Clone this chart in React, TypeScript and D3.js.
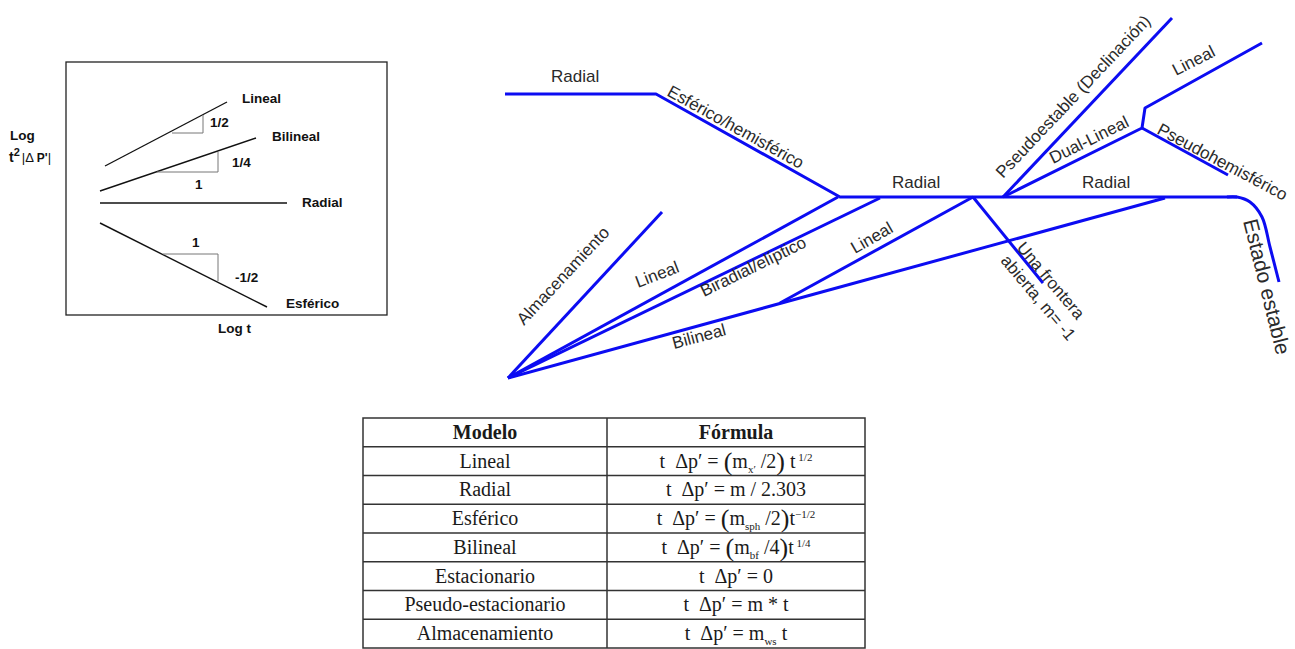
import React from "react";
import * as d3 from "d3";

// ---- left panel: specialised lines on the log-log derivative plot ----
const llNames = ["Lineal", "Bilineal", "Radial", "Esférico"];
const llStart: [number, number][] = [[39, 149], [34, 124], [34, 112], [34, 92]];
const llEnd: [number, number][] = [[161, 213], [190, 177], [221, 112], [201, 8]];
const slopeTriangles: [number, number][][] = [
  [[106, 182], [137, 182], [137, 200]],
  [[91, 143], [152, 143], [152, 163]],
  [[97, 61], [152, 61], [152, 34]],
];
const slopeTexts = ["1/2", "1/4", "1", "1", "-1/2"];

// ---- flow regime tree (schematic units) ----
const mainBranch: [number, number][] = [[0, 284], [151, 284], [335, 181], [732, 181]];
const steadyBranch: [number, number][] = [[722, 181], [732, 181], [745, 176], [757, 161], [765, 131], [774, 96]];
const originBranches: [number, number][][] = [
  [[3, 0], [157, 166]], // almacenamiento
  [[3, 0], [333, 181]], // lineal
  [[3, 0], [375, 180]], // biradial
  [[3, 0], [660, 180]], // bilineal
];
const linealFromBilineal: [number, number][] = [[275, 75], [468, 181]];
const unaFrontera: [number, number][] = [[468, 181], [538, 95]];
const pseudoestable: [number, number][] = [[498, 181], [667, 360]];
const dualLineal: [number, number][] = [[498, 181], [637, 250], [640, 270], [757, 335]];
const pseudohemi: [number, number][] = [[637, 250], [723, 203]];

const flowTexts = [
  "Radial", "Esférico/hemisférico", "Almacenamiento", "Lineal", "Biradial/elíptico",
  "Bilineal", "Lineal", "Radial", "Radial", "Pseudoestable (Declinación)", "Dual-Lineal",
  "Lineal", "Pseudohemisférico", "Una frontera", "abierta, m= -1", "Estado estable",
];

// ---- table ----
const models = ["Lineal", "Radial", "Esférico", "Bilineal", "Estacionario", "Pseudo-estacionario", "Almacenamiento"];
type Part = [string, "n" | "sub" | "sup" | "big"];
const formulas: Part[][] = [
  [["t  Δp′ = ", "n"], ["(", "big"], ["m", "n"], ["x′", "sub"], [" /2", "n"], [")", "big"], [" t", "n"], [" 1/2", "sup"]],
  [["t  Δp′ = m / 2.303", "n"]],
  [["t  Δp′ = ", "n"], ["(", "big"], ["m", "n"], ["sph", "sub"], [" /2", "n"], [")", "big"], ["t", "n"], ["−1/2", "sup"]],
  [["t  Δp′ = ", "n"], ["(", "big"], ["m", "n"], ["bf", "sub"], [" /4", "n"], [")", "big"], ["t", "n"], [" 1/4", "sup"]],
  [["t  Δp′ = 0", "n"]],
  [["t  Δp′ = m * t", "n"]],
  [["t  Δp′ = m", "n"], ["ws", "sub"], [" t", "n"]],
];

// label layout: [x, y, angle]
const llLabelPos: [number, number][] = [[176, 212], [206, 174], [236, 108], [220, 7]];
const slopePos: [number, number][] = [[144, 188], [166, 148], [129, 126], [126, 68], [169, 33]];
const flowPos: [number, number, number][] = [
  [46, 296, 0], [161, 283, 29], [19, 52, -47], [133, 90, -21], [199, 81, -26],
  [169, 29, -15], [350, 124, -30], [387, 190, 0], [577, 190, 0], [498, 199, -46.6],
  [548, 214, -26.4], [671, 302, -27], [651, 245, 28], [511, 130, 50], [495, 117, 50],
  [738, 157, 76],
];

const BLUE = "#0c0cf2";
const SANS = "'Liberation Sans', Arial, sans-serif";
const SERIF = "'Liberation Serif', 'Times New Roman', serif";

function Formula({ parts, x, y }: { parts: Part[]; x: number; y: number }) {
  let cur = 0;
  const spans = parts.map(([t, k], i) => {
    const target = k === "sub" ? 5 : k === "sup" ? -7 : k === "big" ? 2 : 0;
    const dy = target - cur;
    cur = target;
    const fs = k === "sub" || k === "sup" ? 11 : k === "big" ? 26 : 20;
    return (
      <tspan key={i} dy={dy} fontSize={fs}>
        {t}
      </tspan>
    );
  });
  return (
    <text x={x} y={y} textAnchor="middle" fontFamily={SERIF} fill="#1a1a1a" style={{ whiteSpace: "pre" }}>
      {spans}
    </text>
  );
}

export default function App() {
  // left plot scales
  const lx = d3.scaleLinear().domain([0, 321]).range([66, 387]);
  const ly = d3.scaleLinear().domain([0, 253]).range([315, 62]);
  const lLine = d3.line<[number, number]>().x((d) => lx(d[0])).y((d) => ly(d[1]));

  // tree scales
  const fx = d3.scaleLinear().domain([0, 790]).range([505, 1295]);
  const fy = d3.scaleLinear().domain([0, 360]).range([378, 18]);
  const fLine = d3.line<[number, number]>().x((d) => fx(d[0])).y((d) => fy(d[1]));
  const fCurve = d3.line<[number, number]>().x((d) => fx(d[0])).y((d) => fy(d[1])).curve(d3.curveCatmullRom);

  // table scales
  const rows = d3.scaleBand<number>().domain(d3.range(models.length + 1)).range([418, 648]);
  const tLeft = 363, tMid = 607, tRight = 865;

  const treePaths = [mainBranch, ...originBranches, linealFromBilineal, unaFrontera, pseudoestable, dualLineal, pseudohemi];

  return (
    <svg width={1295} height={649} style={{ position: "absolute", left: 0, top: 0, background: "#fff" }}>
      {/* left panel */}
      <rect x={lx(0)} y={ly(253)} width={lx(321) - lx(0)} height={ly(0) - ly(253)} fill="none" stroke="#222" strokeWidth={1.3} />
      {llNames.map((n, i) => (
        <path key={n} d={lLine([llStart[i], llEnd[i]]) || ""} stroke="#111" strokeWidth={1.4} fill="none" />
      ))}
      {slopeTriangles.map((t, i) => (
        <path key={i} d={lLine(t) || ""} stroke="#777" strokeWidth={1} fill="none" />
      ))}
      <g fontFamily={SANS} fontWeight="bold" fontSize={13.5} fill="#111">
        {llNames.map((n, i) => (
          <text key={n} x={lx(llLabelPos[i][0])} y={ly(llLabelPos[i][1])}>{n}</text>
        ))}
        {slopeTexts.map((s, i) => (
          <text key={i} x={lx(slopePos[i][0])} y={ly(slopePos[i][1])}>{s}</text>
        ))}
        <text x={lx(152)} y={ly(-18)}>Log t</text>
        <text x={10} y={140}>Log</text>
        <text x={9} y={162} fontSize={14}>
          t<tspan dy={-6} fontSize={11}>2</tspan>
          <tspan dy={6} fontSize={13} fontWeight="normal" dx={2}>|Δ </tspan>
          <tspan fontSize={12}>P'</tspan>
          <tspan fontSize={13} fontWeight="normal">|</tspan>
        </text>
      </g>

      {/* flow regime tree */}
      {treePaths.map((p, i) => (
        <path key={i} d={fLine(p) || ""} stroke={BLUE} strokeWidth={3} fill="none" strokeLinejoin="round" />
      ))}
      <path d={fCurve(steadyBranch) || ""} stroke={BLUE} strokeWidth={3} fill="none" />
      <g fontFamily={SANS} fill="#2a2a2a" fontSize={17}>
        {flowTexts.map((t, i) => {
          const [x, y, a] = flowPos[i];
          const px = fx(x), py = fy(y);
          return (
            <text key={i} x={px} y={py} fontSize={i === 15 ? 21 : 17} transform={`rotate(${a},${px},${py})`}>
              {t}
            </text>
          );
        })}
      </g>

      {/* table */}
      <g stroke="#333" strokeWidth={1.5}>
        <rect x={tLeft} y={rows(0)!} width={tRight - tLeft} height={648 - rows(0)!} fill="none" />
        <line x1={tMid} x2={tMid} y1={rows(0)!} y2={648} />
        {d3.range(1, models.length + 1).map((r) => (
          <line key={r} x1={tLeft} x2={tRight} y1={rows(r)!} y2={rows(r)!} />
        ))}
      </g>
      <g fontFamily={SERIF} fontSize={20} fill="#1a1a1a" textAnchor="middle">
        <text x={(tLeft + tMid) / 2} y={rows(0)! + rows.bandwidth() - 8} fontWeight="bold">Modelo</text>
        <text x={(tMid + tRight) / 2} y={rows(0)! + rows.bandwidth() - 8} fontWeight="bold">Fórmula</text>
        {models.map((m, i) => (
          <text key={m} x={(tLeft + tMid) / 2} y={rows(i + 1)! + rows.bandwidth() - 8}>{m}</text>
        ))}
      </g>
      {formulas.map((f, i) => (
        <Formula key={i} parts={f} x={(tMid + tRight) / 2} y={rows(i + 1)! + rows.bandwidth() - 8} />
      ))}
    </svg>
  );
}
